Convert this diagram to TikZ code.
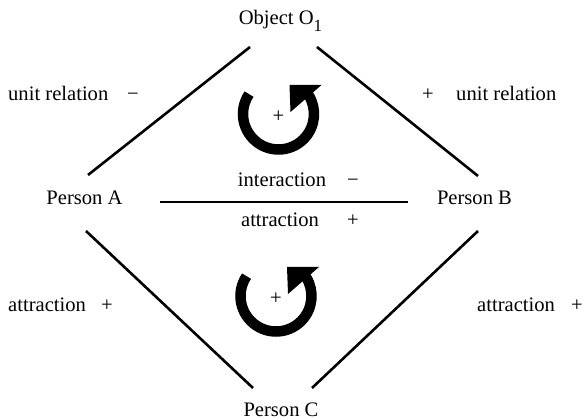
\documentclass[tikz,border=0pt]{standalone}
\usepackage{fontspec}
\setmainfont{Liberation Serif}
\usepackage{tikz}
\usetikzlibrary{calc}
\newcommand{\diagfont}{\fontsize{20.6pt}{24pt}\selectfont}
\newcommand{\lowsub}[1]{\raisebox{-7pt}{\fontsize{17pt}{18pt}\selectfont #1}}

\begin{document}
\begin{tikzpicture}[x=1pt,y=-1pt,
every node/.style = {font=\diagfont, inner sep=0pt, text=black},
txt/.style = {anchor=base},
lefttxt/.style = {anchor=base west},
tie/.style = {line width=2.6pt, color=black},
turn/.pic = {
  \draw [line width=10.5pt, color=black] (-146:35.5) arc[start angle=-146, end angle=-402, radius=35.5];
  \fill [black] (11,-29) -- (43,-29) -- (12,-2) -- cycle;
  \node at (0,3) {+};
}
]

\useasboundingbox (0,0) rectangle (586,419);

% people and object
\node [txt] (objO) at (280.5,25) {Object O\lowsub{1}};
\node [txt] (personA) at (84.5,205) {Person A};
\node [txt] (personB) at (474.5,205) {Person B};
\node [txt] (personC) at (281,416) {Person C};

% relations
\draw [tie] ([shift={(3.5,-30)}]personA.base) -- ([shift={(-30.5,22)}]objO.base);
\draw [tie] ([shift={(3.5,-29)}]personB.base) -- ([shift={(36.5,22)}]objO.base);
\draw [tie] ([shift={(1.5,26)}]personA.base) -- ([shift={(-28,-28)}]personC.base);
\draw [tie] ([shift={(3.5,26)}]personB.base) -- ([shift={(31,-28)}]personC.base);
\draw [tie] ([shift={(75.5,-3)}]personA.base) -- ([shift={(-66.5,-3)}]personB.base);

% labels
\node [lefttxt] (unitA) at (8,101) {unit relation};
\node [txt] (unitAsign) at (133,101) {−};
\node [txt] (unitBsign) at (428,101) {+};
\node [lefttxt] (unitB) at (456,101) {unit relation};
\node [txt] (inter) at (282,187) {interaction};
\node [txt] (intersign) at (353,187) {−};
\node [txt] (attrAB) at (280,227) {attraction};
\node [txt] (attrABsign) at (353,227) {+};
\node [lefttxt] (attrA) at (8,312) {attraction};
\node [txt] (attrAsign) at (107,312) {+};
\node [lefttxt] (attrB) at (477,312) {attraction};
\node [txt] (attrBsign) at (577,312) {+};

% balance cycles
\pic at (278.5,114) {turn};
\pic at (276,296) {turn};

\end{tikzpicture}
\end{document}
